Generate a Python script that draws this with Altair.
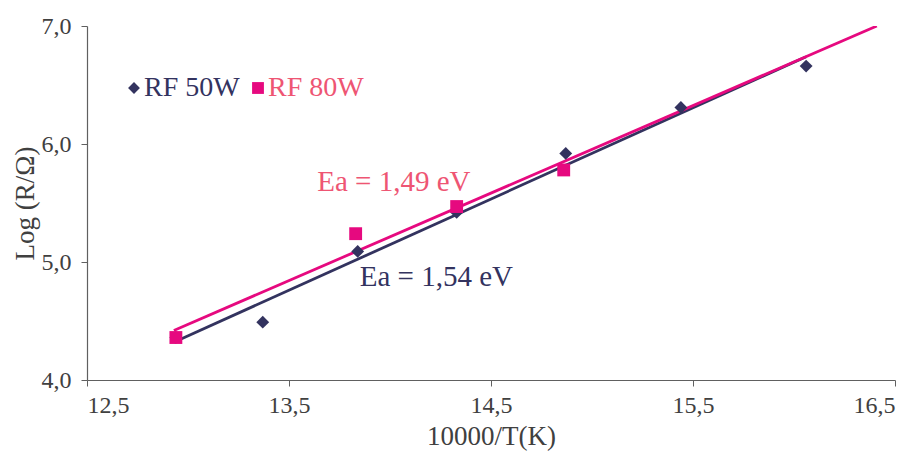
import altair as alt
import pandas as pd

# data
x_50 = [12.94, 13.37, 13.84, 14.33, 14.87, 15.44, 16.06]
y_50 = [4.36, 4.49, 5.09, 5.42, 5.92, 6.31, 6.66]
x_80 = [12.94, 13.83, 14.33, 14.86]
y_80 = [4.36, 5.24, 5.47, 5.78]

trend_x_50 = [12.93, 16.06]
trend_y_50 = [4.32, 6.74]
trend_x_80 = [12.93, 16.41]
trend_y_80 = [4.42, 7.00]

series = ["RF 50W", "RF 80W"]
colors = ["#33335F", "#E6097F"]
label_colors = ["#33335F", "#EE5573"]

notes = ["Ea = 1,49 eV", "Ea = 1,54 eV"]
note_x = [13.64, 13.85]
note_y = [5.60, 4.80]

pts = pd.DataFrame(
    {"x": x_50 + x_80, "y": y_50 + y_80,
     "s": [series[0]] * len(x_50) + [series[1]] * len(x_80)}
)
trend = pd.DataFrame(
    {"x": trend_x_50 + trend_x_80, "y": trend_y_50 + trend_y_80,
     "s": [series[0]] * 2 + [series[1]] * 2}
)
ann = pd.DataFrame({"t": notes, "x": note_x, "y": note_y, "s": [series[1], series[0]]})

FONT = "Liberation Serif"
xs = alt.Scale(domain=[12.5, 16.5], nice=False, zero=False)
ys = alt.Scale(domain=[4.0, 7.0], nice=False, zero=False)
cs = alt.Scale(domain=series, range=colors)

x_axis = alt.Axis(
    values=[12.5, 13.5, 14.5, 15.5, 16.5],
    labelExpr="replace(format(datum.value, '.1f'), '.', ',')",
    title="10000/T(K)", grid=False, tickSize=6, labelPadding=7,
    titlePadding=6,
)
y_axis = alt.Axis(
    values=[4.0, 5.0, 6.0, 7.0],
    labelExpr="replace(format(datum.value, '.1f'), '.', ',')",
    title="Log (R/Ω)", grid=False, tickSize=6, labelPadding=10,
    titlePadding=2,
)

legend = alt.Legend(
    title=None, orient="none", direction="horizontal",
    legendX=33, legendY=48, padding=0,
    labelFont=FONT, labelFontSize=28,
    labelColor=alt.ExprRef("datum.label == 'RF 80W' ? '" + label_colors[1] + "' : '" + label_colors[0] + "'"),
    labelOffset=alt.ExprRef("-4"), columnPadding=4, symbolSize=140,
    symbolStrokeWidth=0,
)

lines = alt.Chart(trend).mark_line(strokeWidth=2.8, clip=True).encode(
    x=alt.X("x:Q", scale=xs, axis=x_axis),
    y=alt.Y("y:Q", scale=ys, axis=y_axis),
    color=alt.condition(alt.datum.s == series[1], alt.value(colors[1]), alt.value(colors[0])),
    detail="s:N",
)

points = alt.Chart(pts).mark_point(filled=True, opacity=1, size=165).encode(
    x=alt.X("x:Q", scale=xs),
    y=alt.Y("y:Q", scale=ys),
    color=alt.Color("s:N", scale=cs, legend=legend),
    shape=alt.Shape("s:N", scale=alt.Scale(domain=series, range=["diamond", "square"]), legend=legend),
)

texts = alt.Chart(ann).mark_text(
    align="left", baseline="alphabetic", font=FONT, fontSize=29
).encode(
    x=alt.X("x:Q", scale=xs),
    y=alt.Y("y:Q", scale=ys),
    text="t:N",
    color=alt.condition(alt.datum.s == series[1], alt.value(label_colors[1]), alt.value(label_colors[0])),
)

chart = (
    alt.layer(lines, points, texts)
    .properties(
        width=808, height=354,
        autosize=alt.AutoSizeParams(type="none"),
        padding={"left": 79, "top": 18, "right": 16, "bottom": 75},
    )
    .configure_view(stroke=None)
    .configure_axis(
        labelFont=FONT, titleFont=FONT, labelFontSize=24, titleFontSize=27,
        labelColor="#404040", titleColor="#404040", domainColor="#606060",
        tickColor="#606060", titleFontWeight="normal", domainWidth=1.2,
    )
)

chart.save("out.html", embed_options={"renderer": "svg", "actions": False})
